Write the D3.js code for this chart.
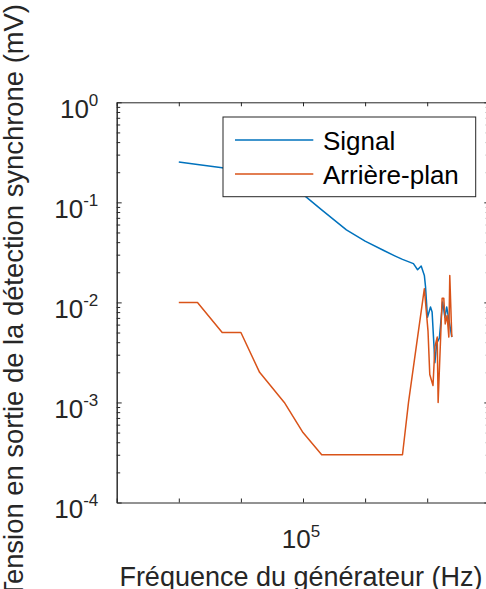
<!DOCTYPE html>
<html>
<head>
<meta charset="utf-8">
<script src="https://cdn.jsdelivr.net/npm/d3@7"></script>
<style>
  body { margin: 0; background: #fff; }
  text { font-family: "Liberation Sans", Arial, Helvetica, sans-serif; fill: #262626; }
</style>
</head>
<body>
<div id="chart"></div>
<script>
// frequencies in Hz, voltages in mV
var freqSignal = [1e3, 2e3, 5e3, 1e4, 2e4, 5e4, 1e5, 2e5, 5e5, 1e6, 2e6, 3e6, 4e6, 6e6, 7e6, 8e6, 9e6, 9.4e6,
                  1.01e7, 1.13e7, 1.2e7, 1.33e7, 1.42e7, 1.57e7, 1.77e7, 1.93e7, 2.06e7, 2.34e7, 2.49e7];
var signal = [0.253, 0.239, 0.222, 0.20, 0.17, 0.14, 0.12, 0.084, 0.053, 0.041, 0.033, 0.0292, 0.0269, 0.0244,
              0.0212, 0.0231, 0.0186, 0.0143, 0.0071, 0.009, 0.008, 0.0025, 0.0039, 0.0044, 0.0101, 0.0071,
              0.009, 0.0057, 0.0045];

var freqBackground = [1e3, 2e3, 5e3, 1e4, 2e4, 5e4, 1e5, 2e5, 5e5, 1e6, 2e6, 4e6, 5e6, 9e6, 1.03e7, 1.1e7,
                      1.24e7, 1.33e7, 1.45e7, 1.5e7, 1.74e7, 1.85e7, 1.95e7, 2.09e7, 2.23e7, 2.31e7, 2.49e7];
var background = [0.01, 0.01, 0.005, 0.005, 0.002, 0.001, 0.0005, 0.0003, 0.0003, 0.0003, 0.0003, 0.0003,
                  0.001, 0.0137, 0.0052, 0.0019, 0.00148, 0.0036, 0.0045, 0.001, 0.011, 0.011, 0.0061,
                  0.0074, 0.0045, 0.0186, 0.0045];

var seriesNames = ["Signal", "Arrière-plan"];
var xTickValues = [1e2, 1e3, 1e4, 1e5, 1e6, 1e7, 1e8];
var xLabelExponents = [5];
var yTickExponents = [0, -1, -2, -3, -4];
var xTitle = "Fréquence du générateur (Hz)";
var yTitle = "Tension en sortie de la détection synchrone (mV)";

var W = 486, H = 589;
var plotLeft = 116.7, plotRight = 489.3, plotTop = 102.3, plotBottom = 502.5;
var blue = "#0072BD", orange = "#D95319", axisColor = "#262626";

var x = d3.scaleLog().domain([1e2, 1e8]).range([plotLeft, plotRight]);
var y = d3.scaleLog().domain([1e-4, 1]).range([plotBottom, plotTop]);

var yMajor = yTickExponents.map(function(e) { return Math.pow(10, e); });
var yMinor = [];
yTickExponents.slice(1).forEach(function(e) {
  for (var k = 2; k <= 9; k++) yMinor.push(k * Math.pow(10, e));
});

var svg = d3.select("#chart").append("svg")
    .attr("width", W)
    .attr("height", H);

svg.append("rect").attr("width", W).attr("height", H).attr("fill", "#fff");

// data lines
var line = d3.line()
    .x(function(d) { return x(d[0]); })
    .y(function(d) { return y(d[1]); });

var sig = freqSignal.map(function(f, i) { return [f, signal[i]]; });
var bg = freqBackground.map(function(f, i) { return [f, background[i]]; });

svg.append("path").datum(sig)
    .attr("d", line).attr("fill", "none")
    .attr("stroke", blue).attr("stroke-width", 1.5).attr("stroke-linejoin", "round");

svg.append("path").datum(bg)
    .attr("d", line).attr("fill", "none")
    .attr("stroke", orange).attr("stroke-width", 1.5).attr("stroke-linejoin", "round");

// axes (ticks pointing inside, box on)
function styleAxis(g) {
  g.selectAll("path, line").attr("stroke", axisColor).attr("stroke-width", 1);
  g.attr("font-size", null).attr("font-family", null);
}

svg.append("g").attr("transform", "translate(" + plotLeft + ",0)")
    .call(d3.axisLeft(y).tickValues(yMinor).tickSizeInner(-3.5).tickSizeOuter(0).tickFormat(""))
    .call(styleAxis);
svg.append("g").attr("transform", "translate(" + plotRight + ",0)")
    .call(d3.axisRight(y).tickValues(yMinor).tickSizeInner(-3.5).tickSizeOuter(0).tickFormat(""))
    .call(styleAxis);

var yAxisG = svg.append("g").attr("transform", "translate(" + plotLeft + ",0)")
    .call(d3.axisLeft(y).tickValues(yMajor).tickSizeInner(-5).tickSizeOuter(0).tickFormat(""))
    .call(styleAxis);
svg.append("g").attr("transform", "translate(" + plotRight + ",0)")
    .call(d3.axisRight(y).tickValues(yMajor).tickSizeInner(-5).tickSizeOuter(0).tickFormat(""))
    .call(styleAxis);

var xAxisG = svg.append("g").attr("transform", "translate(0," + plotBottom + ")")
    .call(d3.axisBottom(x).tickValues(xTickValues).tickSizeInner(-4).tickSizeOuter(0).tickFormat(""))
    .call(styleAxis);
svg.append("g").attr("transform", "translate(0," + plotTop + ")")
    .call(d3.axisTop(x).tickValues(xTickValues).tickSizeInner(-4).tickSizeOuter(0).tickFormat(""))
    .call(styleAxis);

// tick labels as 10^n
yAxisG.selectAll(".tick text").remove();
yAxisG.selectAll(".tick").each(function(d) {
  var t = d3.select(this).append("text")
      .attr("x", -18.4).attr("y", 15.3)
      .attr("text-anchor", "end")
      .attr("font-size", 26);
  t.append("tspan").text("10");
  t.append("tspan").attr("dy", -12.3).attr("font-size", 17).text(Math.round(Math.log10(d)));
});

xAxisG.selectAll(".tick text").remove();
xAxisG.selectAll(".tick")
    .filter(function(d) { return xLabelExponents.indexOf(Math.round(Math.log10(d))) >= 0; })
    .each(function(d) {
      var t = d3.select(this).append("text")
          .attr("x", -2.5).attr("y", 45.8)
          .attr("text-anchor", "middle")
          .attr("font-size", 26);
      t.append("tspan").text("10");
      t.append("tspan").attr("dy", -11.6).attr("font-size", 17).text(Math.round(Math.log10(d)));
    });

// axis titles
svg.append("text")
    .attr("x", (plotLeft + plotRight) / 2 - 2).attr("y", 586)
    .attr("text-anchor", "middle")
    .attr("font-size", 27)
    .text(xTitle);

svg.append("text")
    .attr("transform", "translate(22.5," + ((plotTop + plotBottom) / 2 - 1.5) + ") rotate(-90)")
    .attr("text-anchor", "middle")
    .attr("font-size", 27.4)
    .text(yTitle);

// legend
var legend = svg.append("g");
legend.append("rect")
    .attr("x", 223).attr("y", 117).attr("width", 252.7).attr("height", 79.7)
    .attr("fill", "#fff").attr("stroke", axisColor).attr("stroke-width", 1);

[blue, orange].forEach(function(c, i) {
  var cy = 140 + i * 34;
  legend.append("line")
      .attr("x1", 235).attr("x2", 313.3).attr("y1", cy).attr("y2", cy)
      .attr("stroke", c).attr("stroke-width", 1.5);
  legend.append("text")
      .attr("x", 323).attr("y", cy + 9.5)
      .attr("font-size", 26)
      .style("fill", "#000")
      .text(seriesNames[i]);
});
</script>
</body>
</html>
